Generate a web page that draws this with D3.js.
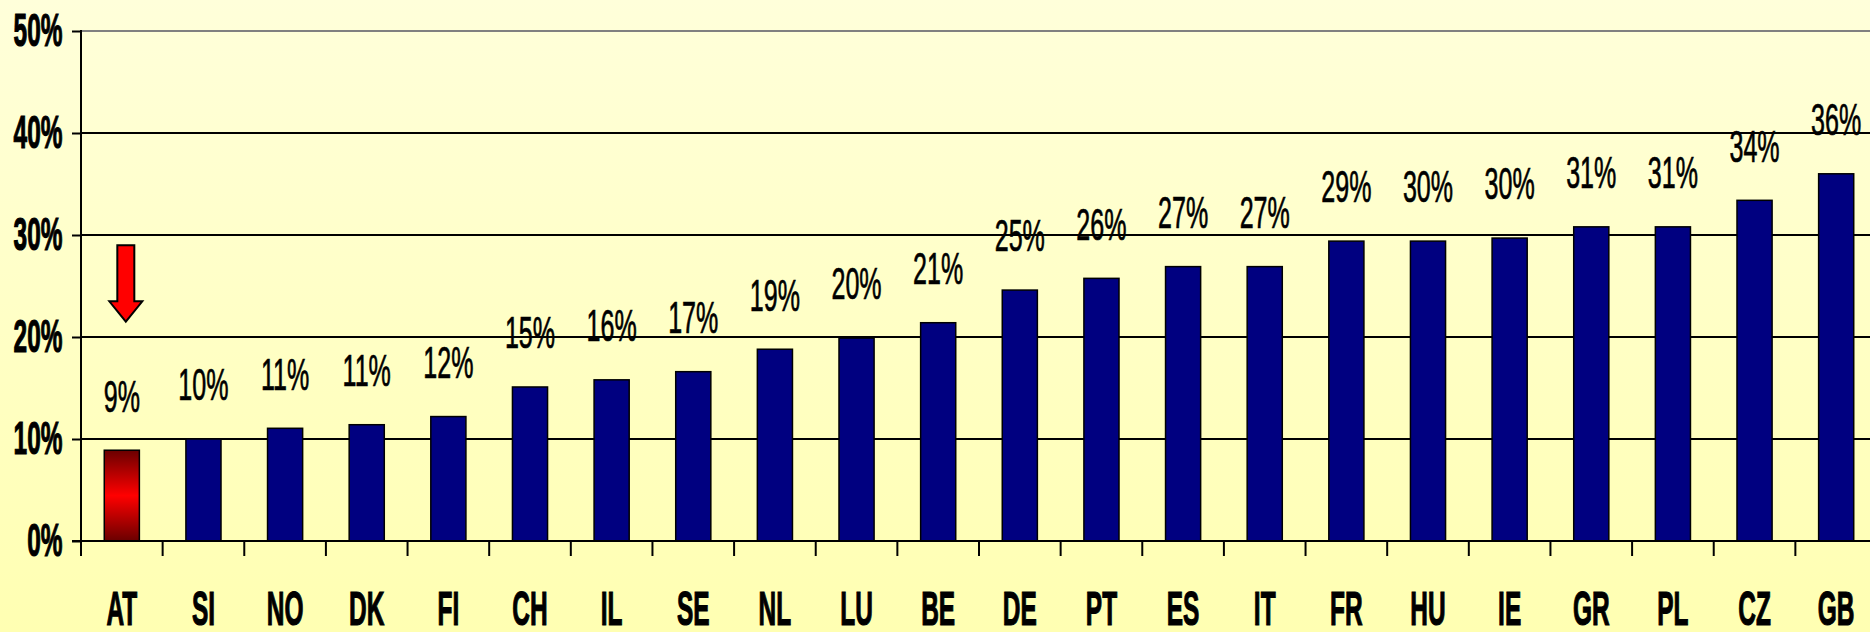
<!DOCTYPE html>
<html>
<head>
<meta charset="utf-8">
<script src="https://cdn.jsdelivr.net/npm/d3@7"></script>
<style>
  html, body { margin: 0; padding: 0; overflow: hidden; }
  svg { display: block; font-family: "Liberation Sans", Arial, sans-serif; }
</style>
</head>
<body>
<div id="chart"></div>
<script>
const countries = ['AT', 'SI', 'NO', 'DK', 'FI', 'CH', 'IL', 'SE', 'NL', 'LU', 'BE',
  'DE', 'PT', 'ES', 'IT', 'FR', 'HU', 'IE', 'GR', 'PL', 'CZ', 'GB'];
const shares = [8.9, 10.0, 11.05, 11.4, 12.2, 15.1, 15.8, 16.6, 18.8, 19.9, 21.4,
  24.6, 25.75, 26.9, 26.9, 29.4, 29.4, 29.7, 30.8, 30.8, 33.4, 36.0];
const shareLabels = ['9%', '10%', '11%', '11%', '12%', '15%', '16%', '17%', '19%', '20%', '21%',
  '25%', '26%', '27%', '27%', '29%', '30%', '30%', '31%', '31%', '34%', '36%'];
const yTicks = [0, 10, 20, 30, 40, 50];
const highlight = 'AT';

const width = 1870, height = 632;
const plotLeft = 81, plotRight = 1877, plotTop = 31, plotBottom = 541;

const rows = countries.map((c, i) => ({ c, v: shares[i], label: shareLabels[i] }));

const svg = d3.select('#chart').append('svg')
  .attr('width', width).attr('height', height)
  .attr('viewBox', `0 0 ${width} ${height}`);

const defs = svg.append('defs');
const bg = defs.append('linearGradient').attr('id', 'bg')
  .attr('x1', 0).attr('y1', 0).attr('x2', 0).attr('y2', 1);
bg.append('stop').attr('offset', 0).attr('stop-color', '#ffffda');
bg.append('stop').attr('offset', 1).attr('stop-color', '#ffffb2');

const red = defs.append('linearGradient').attr('id', 'redbar')
  .attr('x1', 0).attr('y1', 0).attr('x2', 0).attr('y2', 1);
red.append('stop').attr('offset', 0).attr('stop-color', '#6a0000');
red.append('stop').attr('offset', 0.5).attr('stop-color', '#ff0000');
red.append('stop').attr('offset', 1).attr('stop-color', '#6a0000');

svg.append('rect').attr('width', width).attr('height', height).attr('fill', 'url(#bg)');

const x = d3.scaleBand().domain(countries).range([plotLeft, plotRight])
  .paddingInner(0.57).paddingOuter(0.285);
const y = d3.scaleLinear().domain([0, 50]).range([plotBottom, plotTop]);

// gridlines
svg.append('g').selectAll('line').data(yTicks.filter(t => t > 0)).join('line')
  .attr('x1', plotLeft).attr('x2', width)
  .attr('y1', d => y(d)).attr('y2', d => y(d))
  .attr('stroke', d => d === 50 ? '#808080' : '#000')
  .attr('stroke-width', 2);

// y axis
const yAxis = svg.append('g').attr('transform', `translate(${plotLeft},0)`)
  .call(d3.axisLeft(y).tickValues(yTicks).tickSize(9).tickFormat(''));
yAxis.select('.domain').remove();
yAxis.selectAll('line').attr('stroke', '#000').attr('stroke-width', 2);
svg.append('line').attr('x1', plotLeft).attr('x2', plotLeft)
  .attr('y1', plotTop - 1).attr('y2', plotBottom + 15)
  .attr('stroke', '#000').attr('stroke-width', 2);

// condensed fonts: squeeze horizontally, thicken with a thin stroke
svg.append('g').selectAll('text').data(yTicks).join('text')
  .attr('transform', d => `translate(62.5,${y(d) + 15}) scale(0.52,1)`)
  .attr('text-anchor', 'end')
  .attr('font-size', 47).attr('font-weight', 'bold').attr('fill', '#000')
  .attr('stroke', '#000').attr('stroke-width', 1.2)
  .text(d => d + '%');

// bars
svg.append('g').selectAll('rect').data(rows).join('rect')
  .attr('x', d => x(d.c)).attr('width', x.bandwidth())
  .attr('y', d => y(d.v)).attr('height', d => y(0) - y(d.v))
  .attr('fill', d => d.c === highlight ? 'url(#redbar)' : '#000080')
  .attr('stroke', '#000').attr('stroke-width', 1.5);

// x axis
svg.append('line').attr('x1', plotLeft - 9).attr('x2', width)
  .attr('y1', plotBottom).attr('y2', plotBottom)
  .attr('stroke', '#000').attr('stroke-width', 2);
const boundaries = countries.slice(1).map(c => x(c) - x.step() * x.paddingInner() / 2);
svg.append('g').selectAll('line').data(boundaries).join('line')
  .attr('x1', d => d).attr('x2', d => d)
  .attr('y1', plotBottom).attr('y2', plotBottom + 15)
  .attr('stroke', '#000').attr('stroke-width', 2);

svg.append('g').selectAll('text').data(countries).join('text')
  .attr('transform', d => `translate(${x(d) + x.bandwidth() / 2},625) scale(0.515,1)`)
  .attr('text-anchor', 'middle')
  .attr('font-size', 47.5).attr('font-weight', 'bold').attr('fill', '#000')
  .attr('stroke', '#000').attr('stroke-width', 1.2)
  .text(d => d);

// value labels
svg.append('g').selectAll('text').data(rows).join('text')
  .attr('transform', d => `translate(${x(d.c) + x.bandwidth() / 2},${y(d.v) - 38.7}) scale(0.57,1)`)
  .attr('text-anchor', 'middle')
  .attr('font-size', 44).attr('fill', '#000')
  .attr('stroke', '#000').attr('stroke-width', 0.7)
  .text(d => d.label);

// arrow pointing at AT
const ax = x(highlight) + x.bandwidth() / 2 + 4;
const ay0 = y(29), ay1 = y(23.5), ay2 = y(21.5);
const arrow = [[ax - 8.5, ay0], [ax + 8.5, ay0], [ax + 8.5, ay1], [ax + 16.5, ay1],
  [ax, ay2], [ax - 16.5, ay1], [ax - 8.5, ay1]];
svg.append('path')
  .attr('d', d3.line()(arrow) + 'Z')
  .attr('fill', '#ff0000').attr('stroke', '#000').attr('stroke-width', 2)
  .attr('stroke-linejoin', 'miter');
</script>
</body>
</html>
